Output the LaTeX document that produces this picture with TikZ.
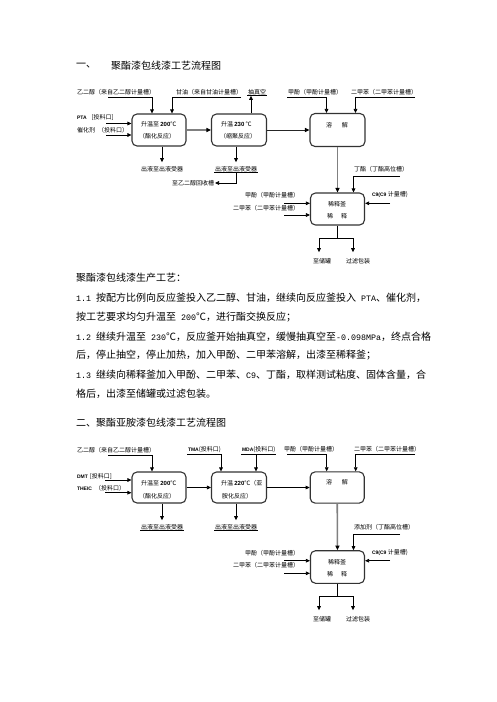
\documentclass[tikz,border=0pt]{standalone}
\usepackage{fontspec}
\setmainfont{Noto Sans CJK SC}
\newfontfamily\hw{Liberation Mono}[Scale=0.833]
\newfontfamily\lt{Liberation Sans}
\usetikzlibrary{arrows.meta}
\newcommand{\LT}[1]{{\lt\bfseries\fontsize{5}{6}\selectfont #1}}
\newcommand{\DG}[1]{{\lt\bfseries #1}}
\begin{document}
\begin{tikzpicture}[x=1pt,y=-1pt,
 box/.style={draw=black!80, line width=1.1pt, rounded corners=5pt, minimum width=54pt, minimum height=32pt, inner sep=0pt},
 lbl/.style={font=\fontsize{6}{7}\selectfont, inner sep=0.8pt},
 ttl/.style={font=\fontsize{10}{12}\selectfont, inner sep=0pt, anchor=west},
 ptxt/.style={font=\fontsize{10}{12}\selectfont, inner sep=0pt, anchor=west},
 arr/.style={line width=0.7pt, -{Triangle[length=4pt,width=3.6pt]}},
 darr/.style={line width=1pt, draw=black!85, -{Triangle[length=4.5pt,width=4pt,color=black]}},
 garr/.style={draw=black!50, line width=1.6pt, -{Triangle[length=4.5pt,width=4pt,color=black]}},
 ln/.style={line width=0.7pt},
 ul/.style={append after command={(\tikzlastnode.south west) edge[line width=0.6pt] (\tikzlastnode.south east)}}]
\fill[white] (0,0) rectangle (496,702);
\useasboundingbox (0,0) rectangle (496,702);

% ---------------- Title 1
\node[ttl] (h1a) at (76,66) {一、};
\node[ttl] (h1b) at (111,66) {聚酯漆包线漆工艺流程图};

% top labels
\node[lbl,anchor=west] (a1) at (76,92) {乙二醇（来自乙二醇计量槽）};
\node[lbl,anchor=west] (a2) at (175,92) {甘油（来自甘油计量槽）};
\node[lbl,anchor=west,ul] (a3) at (247,92) {抽真空};
\node[lbl,anchor=west] (a4) at (287,92) {甲酚（甲酚计量槽）};
\node[lbl,anchor=west] (a5) at (350,92) {二甲苯（二甲苯计量槽）};

% boxes
\node[box] (b1) at (159,130) {};
\node[box,minimum width=55pt] (b2) at (239,130) {};
\node[box,minimum width=55pt,minimum height=33pt] (b3) at (337.5,130) {};
\node[box] (b4) at (337.5,209) {};

\node[lbl,anchor=west] (b1t1) at (140,124) {升温至 \DG{200}℃};
\node[lbl,anchor=west] (b1t2) at (138,136.5) {（酯化反应）};
\node[lbl,anchor=west] (b2t1) at (220,124) {升温 \DG{230} ℃};
\node[lbl,anchor=west] (b2t2) at (219,136.5) {（缩聚反应）};
\node[lbl] (b3t) at (337,125) {溶\hspace{10pt}解};
\node[lbl] (b4t1) at (337,204) {稀释釜};
\node[lbl] (b4t2) at (337,216.5) {稀\hspace{8pt}释};

% left inputs
\node[lbl,anchor=west] (p1) at (76,117) {\LT{PTA}\hspace{5pt}[投料口]};
\node[lbl,anchor=west] (p2) at (76,130) {催化剂\hspace{3pt}（投料口）};

% connectors
\coordinate (c1) at (108,97);
\draw[arr] (c1) -| ([xshift=-7pt]b1.north);
\coordinate (c2) at (241,97);
\draw[arr] (c2) -| ([xshift=13pt]b1.north);
\draw[arr] ([xshift=12pt]b2.north) -- ([xshift=12pt]b2.north |- a3.south);
\coordinate (c3) at (287,97);
\draw[arr] (c3) -| ([xshift=-11pt]b3.north);
\coordinate (c4) at (415,97);
\draw[arr] (c4) -| ([xshift=18pt]b3.north);
\coordinate (c5) at (106,123.5);
\draw[arr] (c5) -- (c5 -| b1.west);
\coordinate (c6) at (106,135);
\draw[arr] (c6) -- (c6 -| b1.west);
\draw[garr] (b1) -- (b2);
\draw[darr] (b2) -- (b3);

\node[lbl] (o1) at (162,169) {出液至出液受器};
\node[lbl,ul] (o2) at (236,169) {出液至出液受器};
\draw[arr] (b1.south -| o1.north) -- ([yshift=3pt]o1.north);
\draw[arr] (b2.south -| o2.north) -- ([yshift=3pt]o2.north);
\node[lbl,anchor=east] (r1) at (215,183) {至乙二醇回收槽};
\draw[arr] (o2.south) |- (r1.east);

\draw[garr] (b3) -- (b4);
\node[lbl,anchor=west] (d1) at (353,169) {丁酯（丁酯高位槽）};
\coordinate (c7) at (400,176.5);
\draw[arr] (c7) -| ([xshift=16pt]b4.north);

\node[lbl,anchor=east] (k1) at (300,195) {甲酚（甲酚计量槽）};
\node[lbl,anchor=east] (k2) at (300,208) {二甲苯（二甲苯计量槽）};
\coordinate (c8) at (284,203.3);
\draw[arr] (c8) -- (c8 -| b4.west);
\coordinate (c9) at (284,215);
\draw[arr] (c9) -- (c9 -| b4.west);
\node[lbl,anchor=west] (k3) at (371,195) {\LT{C9(C9} 计量槽)};
\coordinate (c10) at (390,203.3);
\draw[arr] (c10) -- (c10 -| b4.east);

\coordinate (s1) at (337.5,238);
\draw[ln] (b4.south) -- (s1);
\node[lbl] (z1) at (322,261) {至储罐};
\node[lbl] (z2) at (358,261) {过滤包装};
\draw[arr] (s1) -| ([xshift=-3pt,yshift=5pt]z1.north);
\draw[arr] (s1) -| ([xshift=-5pt,yshift=5pt]z2.north);

% ---------------- Paragraph
\node[ptxt] (L0) at (76,278) {聚酯漆包线漆生产工艺：};
\node[ptxt] (L1) at (76,298) {{\hw 1.1 }按配方比例向反应釜投入乙二醇、甘油，继续向反应釜投入{\hw\ PTA}、催化剂，};
\node[ptxt] (L2) at (76,317) {按工艺要求均匀升温至{\hw\ 200}℃，进行酯交换反应；};
\node[ptxt] (L3) at (76,337) {{\hw 1.2 }继续升温至{\hw\ 230}℃，反应釜开始抽真空，缓慢抽真空至{\hw -0.098MPa}，终点合格};
\node[ptxt] (L4) at (76,355.5) {后，停止抽空，停止加热，加入甲酚、二甲苯溶解，出漆至稀释釜；};
\node[ptxt] (L5) at (76,374.5) {{\hw 1.3 }继续向稀释釜加入甲酚、二甲苯、{\hw C9}、丁酯，取样测试粘度、固体含量，合};
\node[ptxt] (L6) at (76,394) {格后，出漆至储罐或过滤包装。};

% ---------------- Title 2
\node[ttl] (h2) at (76,423) {二、聚酯亚胺漆包线漆工艺流程图};

% top labels
\node[lbl,anchor=west] (e1) at (76,450) {乙二醇（来自乙二醇计量槽）};
\node[lbl,anchor=west,ul] (e2) at (187,450) {\LT{TMA}(投料口)};
\node[lbl,anchor=west,ul] (e3) at (241,450) {\LT{MDA}(投料口)};
\node[lbl,anchor=west] (e4) at (283,449) {甲酚（甲酚计量槽）};
\node[lbl,anchor=west] (e5) at (353,449) {二甲苯（二甲苯计量槽）};

% boxes
\node[box,minimum height=31pt] (B1) at (159,487.5) {};
\node[box,minimum width=55pt,minimum height=31pt] (B2) at (239,487.5) {};
\node[box,minimum height=31.3pt] (B3) at (337.2,487.5) {};
\node[box,minimum height=32.6pt] (B4) at (337.5,567) {};

\node[lbl,anchor=west] (B1t1) at (140,483) {升温至 \DG{200}℃};
\node[lbl,anchor=west] (B1t2) at (138,496) {（酯化反应）};
\node[lbl,anchor=west] (B2t1) at (220,483) {升温 \DG{220}℃（亚};
\node[lbl,anchor=west] (B2t2) at (221,496) {胺化反应）};
\node[lbl] (B3t) at (337,482) {溶\hspace{10pt}解};
\node[lbl] (B4t1) at (337,562) {稀释釜};
\node[lbl] (B4t2) at (337,574.5) {稀\hspace{8pt}释};

% left inputs
\node[lbl,anchor=west] (q1) at (76,476) {\LT{DMT}\hspace{2pt}[投料口]};
\node[lbl,anchor=west] (q2) at (76,488.5) {\LT{THEIC}\hspace{3pt}（投料口）};

% connectors
\coordinate (f1) at (108,455.5);
\draw[arr] (f1) -| ([xshift=-7pt]B1.north);
\draw[arr] ([xshift=-18pt]B2.north |- e2.south) -- ([xshift=-18pt]B2.north);
\draw[arr] ([xshift=17pt]B2.north |- e3.south) -- ([xshift=17pt]B2.north);
\coordinate (f3) at (287,454.3);
\draw[arr] (f3) -| ([xshift=-10.5pt]B3.north);
\coordinate (f4) at (415,454.3);
\draw[arr] (f4) -| ([xshift=18.5pt]B3.north);
\coordinate (f5) at (105,480);
\draw[arr] (f5) -- (f5 -| B1.west);
\coordinate (f6) at (105,492.7);
\draw[arr] (f6) -- (f6 -| B1.west);
\draw[arr] (B1) -- (B2);
\draw[arr] (B2) -- (B3);

\node[lbl,ul] (O1) at (162,527) {出液至出液受器};
\node[lbl,ul] (O2) at (236,527) {出液至出液受器};
\draw[arr] (B1.south -| O1.north) -- ([yshift=3pt]O1.north);
\draw[arr] (B2.south -| O2.north) -- ([yshift=3pt]O2.north);

\draw[garr] (B3) -- (B4);
\node[lbl,anchor=west] (D1) at (353,527) {添加剂（丁酯高位槽）};
\coordinate (f7) at (400,534);
\draw[arr] (f7) -| ([xshift=16pt]B4.north);

\node[lbl,anchor=east] (K1) at (300,553.3) {甲酚（甲酚计量槽）};
\node[lbl,anchor=east] (K2) at (300,565.7) {二甲苯（二甲苯计量槽）};
\coordinate (f8) at (284,560.7);
\draw[arr] (f8) -- (f8 -| B4.west);
\coordinate (f9) at (284,573.3);
\draw[arr] (f9) -- (f9 -| B4.west);
\node[lbl,anchor=west] (K3) at (371,553) {\LT{C9(C9} 计量槽)};
\coordinate (f10) at (390,560.7);
\draw[arr] (f10) -- (f10 -| B4.east);

\coordinate (s2) at (337.5,596.7);
\draw[ln] (B4.south) -- (s2);
\node[lbl] (Z1) at (322,619) {至储罐};
\node[lbl] (Z2) at (358,619) {过滤包装};
\draw[arr] (s2) -| ([xshift=-3pt,yshift=5pt]Z1.north);
\draw[arr] (s2) -| ([xshift=-5pt,yshift=5pt]Z2.north);
\end{tikzpicture}
\end{document}
